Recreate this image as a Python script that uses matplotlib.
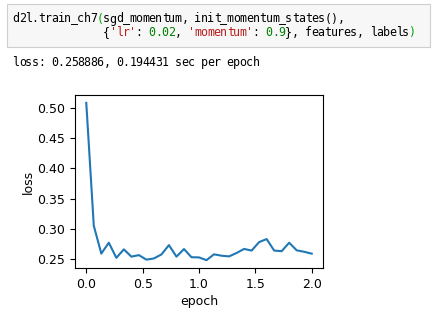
import matplotlib
matplotlib.use("Agg")
import matplotlib.pyplot as plt
from matplotlib.patches import Rectangle

# ------------------------
# Dane
# ------------------------
epochs = [0.0, 0.0667, 0.1333, 0.2, 0.2667, 0.3333, 0.4, 0.4667, 0.5333, 0.6,
          0.6667, 0.7333, 0.8, 0.8667, 0.9333, 1.0, 1.0667, 1.1333, 1.2, 1.2667,
          1.3333, 1.4, 1.4667, 1.5333, 1.6, 1.6667, 1.7333, 1.8, 1.8667, 1.9333, 2.0]
losses = [0.508, 0.305, 0.259, 0.277, 0.252, 0.266, 0.254, 0.2565, 0.249, 0.251,
          0.2576, 0.273, 0.254, 0.2665, 0.253, 0.2527, 0.2482, 0.2578, 0.2555, 0.2544,
          0.260, 0.2667, 0.264, 0.278, 0.283, 0.264, 0.263, 0.277, 0.2644, 0.262, 0.2589]
xticks = [0.0, 0.5, 1.0, 1.5, 2.0]
yticks = [0.25, 0.30, 0.35, 0.40, 0.45, 0.50]

code_lines = [
    [("d2l.train_ch7", "black"), ("(", "#00a000"), ("sgd_momentum, init_momentum_states(),", "black")],
    [(" " * 14 + "{", "black"), ("'lr'", "#ba2121"), (": ", "black"), ("0.02", "#008000"),
     (", ", "black"), ("'momentum'", "#ba2121"), (": ", "black"), ("0.9", "#008000"),
     ("}, features, labels", "black"), (")", "#00a000")],
]
output_line = "loss: 0.258886, 0.194431 sec per epoch"

W, H = 435, 319
fig = plt.figure(figsize=(W / 100, H / 100), dpi=100)

# ------------------------
# Komórka z kodem (jak w notatniku)
# ------------------------
fig.patches.append(Rectangle((7 / W, 1 - 47 / H), (430 - 7) / W, (47 - 4) / H,
                             transform=fig.transFigure, facecolor="#f7f7f7",
                             edgecolor="#cfcfcf", linewidth=0.8))

CHAR_W = 6.5
X0 = 12.5


def mono_line(y_px, segments):
    col = 0
    for text, color in segments:
        for ch in text:
            if ch != " ":
                fig.text((X0 + col * CHAR_W + CHAR_W / 2) / W, 1 - y_px / H, ch, color=color,
                         family="DejaVu Sans Mono", fontsize=8.4, va="center", ha="center")
            col += 1


mono_line(19, code_lines[0])
mono_line(32.5, code_lines[1])
mono_line(62.5, [(output_line, "black")])

# ------------------------
# Wykres
# ------------------------
ax = fig.add_axes([75 / W, 1 - 268 / H, (323 - 75) / W, (268 - 95) / H])
ax.plot(epochs, losses, color="#1f77b4", linewidth=1.5)
ax.set_xlim(-0.1, 2.1)
ax.set_xticks(xticks)
ax.set_yticks(yticks)
ax.tick_params(labelsize=9)
ax.set_xlabel("epoch", fontsize=9, labelpad=3)
ax.set_ylabel("loss", fontsize=9, labelpad=2)

fig.savefig("out.png", dpi=100)
